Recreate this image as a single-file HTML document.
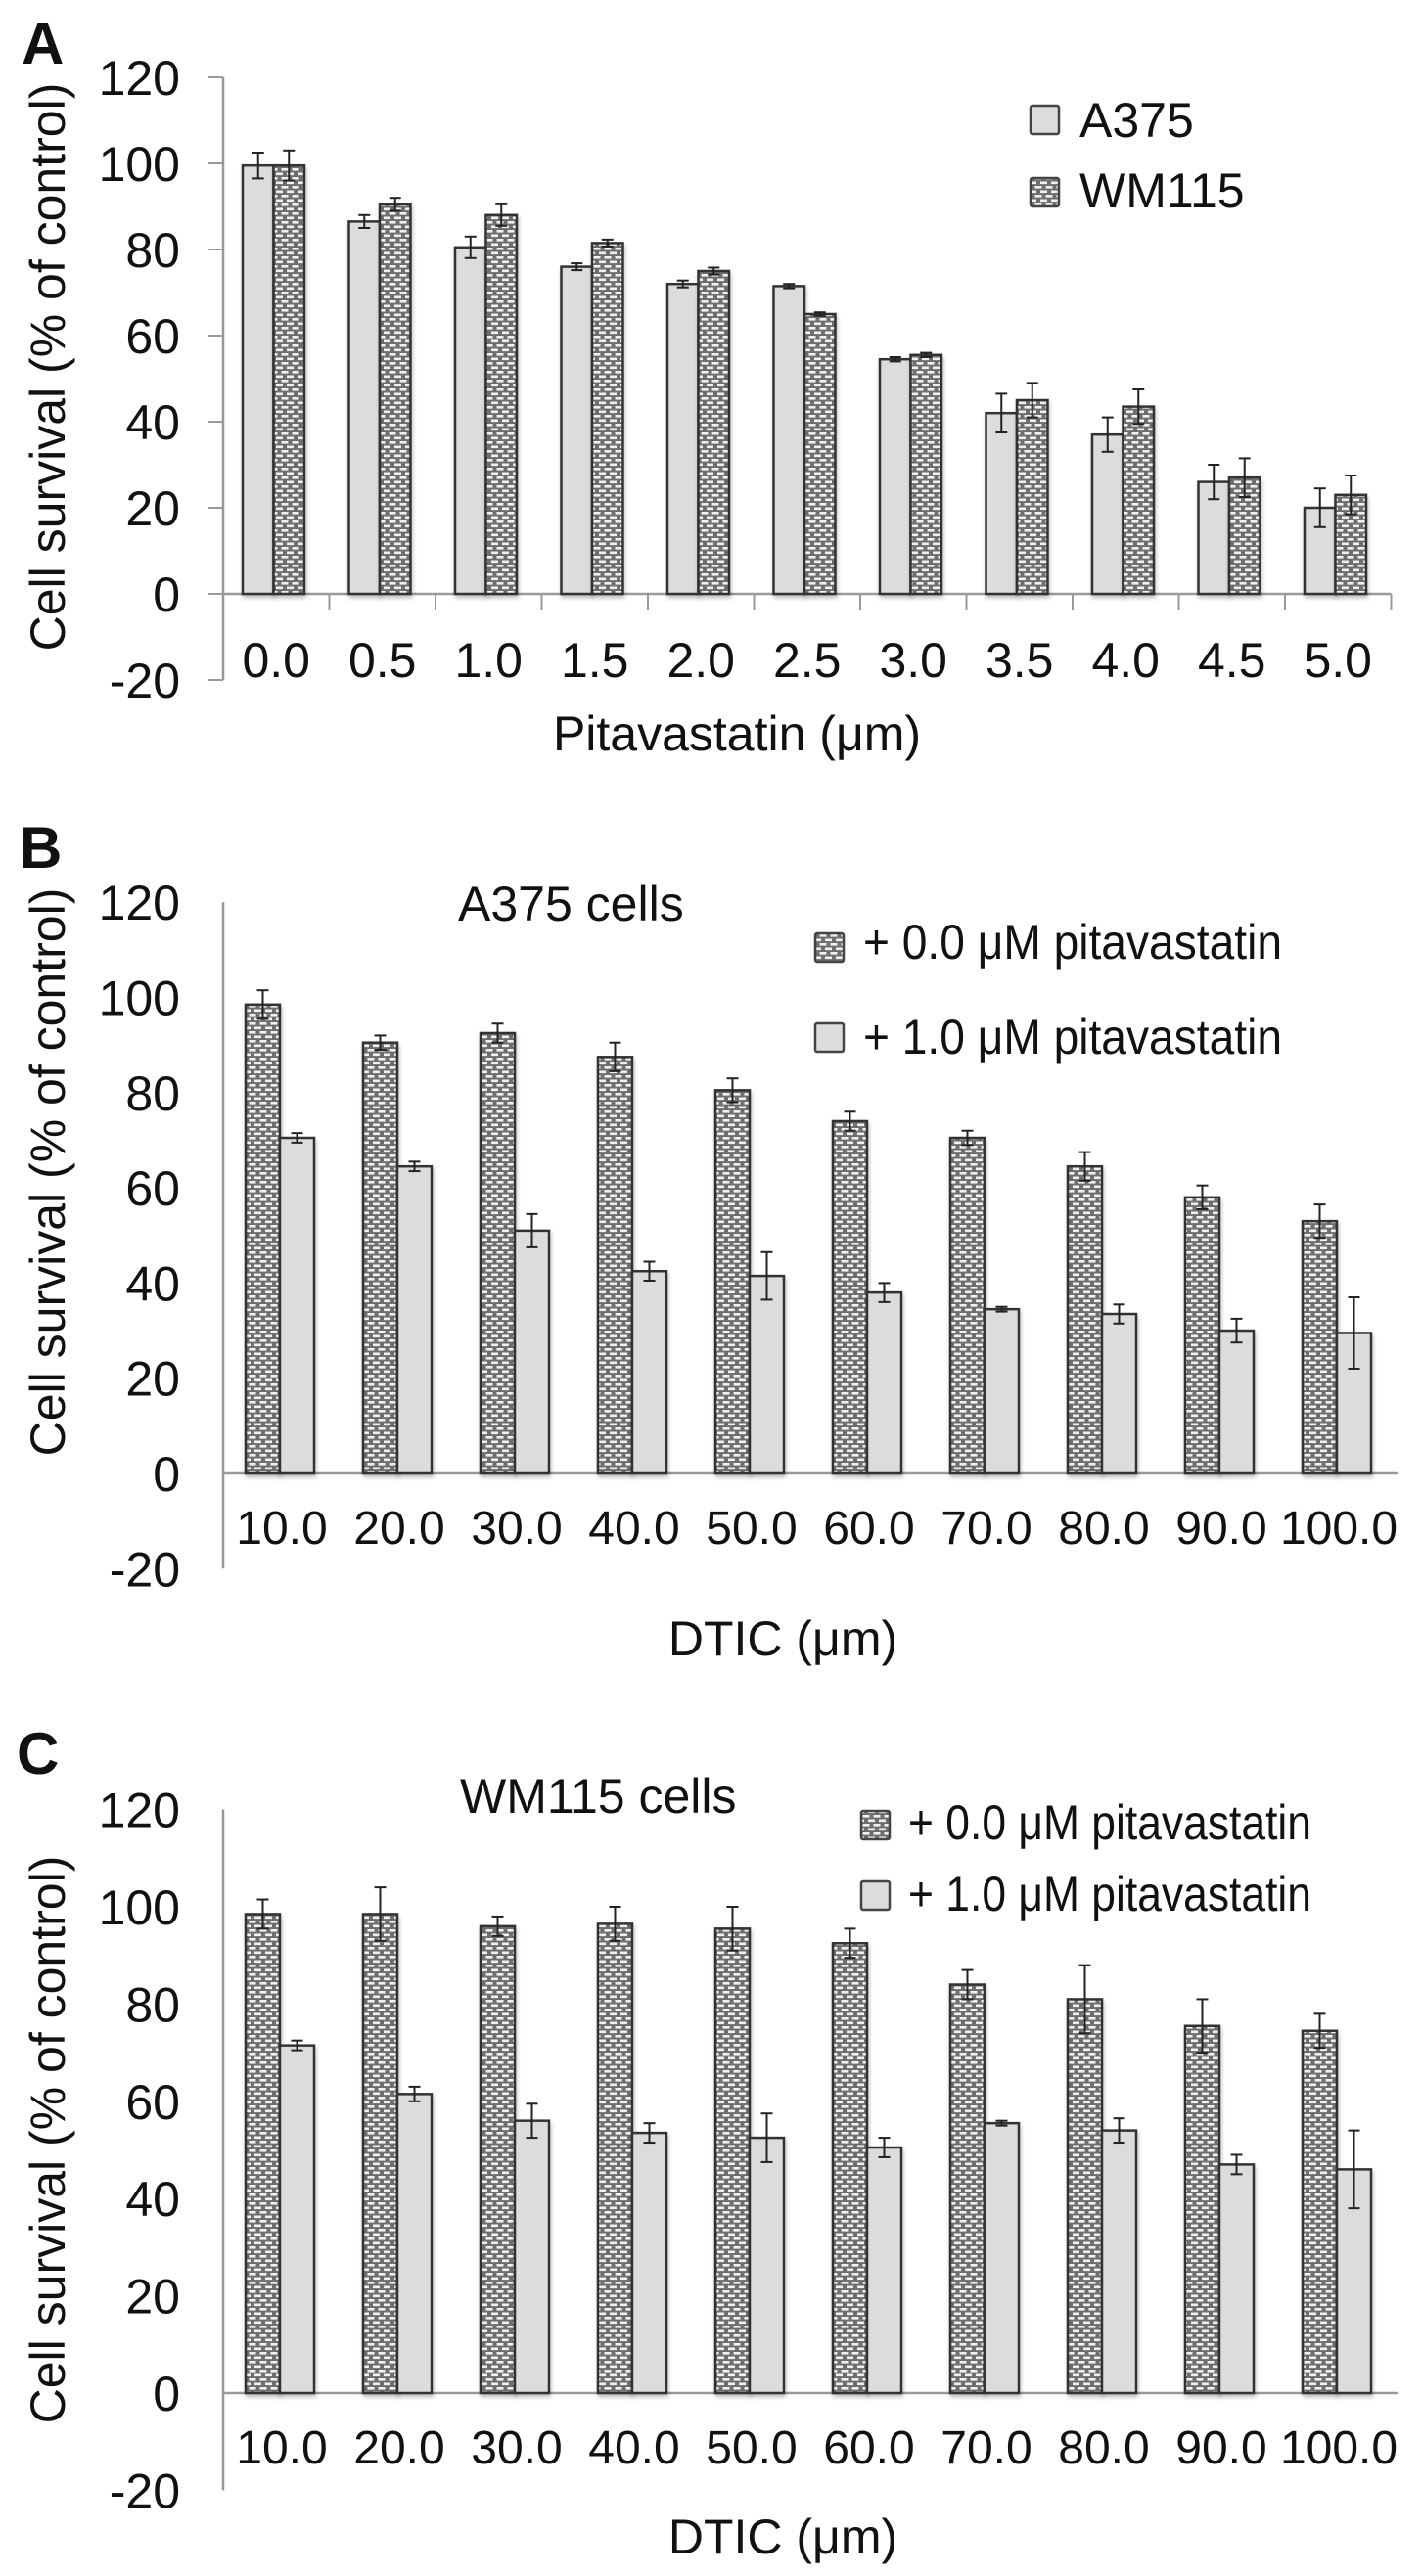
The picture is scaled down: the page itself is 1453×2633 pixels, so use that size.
<!DOCTYPE html>
<html><head><meta charset="utf-8">
<style>
html,body{margin:0;padding:0;background:#fff;}
svg{display:block;}
text{font-family:"Liberation Sans",sans-serif;fill:#111;}
</style></head>
<body>
<svg id="fig" width="1453" height="2633" viewBox="0 0 1453 2633" xmlns="http://www.w3.org/2000/svg">
<defs>
<pattern id="brick" patternUnits="userSpaceOnUse" width="11" height="9">
<rect width="11" height="9" fill="#6e6e6e"/>
<rect x="1.5" y="1" width="7" height="2.6" fill="#f0f0f0"/>
<rect x="-4" y="5.5" width="7" height="2.6" fill="#f0f0f0"/>
<rect x="7" y="5.5" width="7" height="2.6" fill="#f0f0f0"/>
</pattern>
<filter id="shadow" x="-10%" y="-10%" width="130%" height="130%"><feDropShadow dx="1" dy="3" stdDeviation="2" flood-color="#000" flood-opacity="0.25"/></filter>
</defs>
<g id="gA"></g>
<g id="gB"></g>
<g id="gC"></g>
</svg>
<script>
// Panel A data
const catsA = ["0.0","0.5","1.0","1.5","2.0","2.5","3.0","3.5","4.0","4.5","5.0"];
const a375 = [99.5,86.5,80.5,76,72,71.5,54.5,42,37,26,20];
const a375Err = [3,1.5,2.5,0.8,0.8,0.5,0.5,4.5,4,4,4.5];
const wm115 = [99.5,90.5,88,81.5,75,65,55.5,45,43.5,27,23];
const wm115Err = [3.5,1.5,2.5,0.8,0.8,0.4,0.5,4,4,4.5,4.5];
// Panel B data (A375 cells)
const catsB = ["10.0","20.0","30.0","40.0","50.0","60.0","70.0","80.0","90.0","100.0"];
const bZero = [98.5,90.5,92.5,87.5,80.5,74,70.5,64.5,58,53];
const bZeroErr = [3,1.5,2,3,2.5,2,1.5,3,2.5,3.5];
const bOne = [70.5,64.5,51,42.5,41.5,38,34.5,33.5,30,29.5];
const bOneErr = [1,1,3.5,2,5,2,0.5,2,2.5,7.5];
// Panel C data (WM115 cells)
const catsC = ["10.0","20.0","30.0","40.0","50.0","60.0","70.0","80.0","90.0","100.0"];
const cZero = [98.5,98.5,96,96.5,95.5,92.5,84,81,75.5,74.5];
const cZeroErr = [3,5.5,2,3.5,4.5,3,3,7,5.5,3.5];
const cOne = [71.5,61.5,56,53.5,52.5,50.5,55.5,54,47,46];
const cOneErr = [1,1.5,3.5,2,5,2,0.5,2.5,2,8];
const yTicks = [120,100,80,60,40,20,0,-20];

const NS = "http://www.w3.org/2000/svg";
function mk(parent, tag, attrs, txt){
  const e = document.createElementNS(NS, tag);
  for (const k in attrs) e.setAttribute(k, attrs[k]);
  if (txt !== undefined) e.textContent = txt;
  parent.appendChild(e);
  return e;
}

function panel(g, cfg){
  const y = v => cfg.zeroY - v * cfg.scale;
  const x0 = 228;
  const ax = mk(g,'line',{x1:x0,y1:y(120),x2:x0,y2:y(-20),stroke:'#999','stroke-width':2.5});
  
  
  yTicks.forEach(t=>{
    const tl = mk(g,'text',{x:184,y:y(t)+18,'font-size':50,'text-anchor':'end'},String(t));
    
    
    if (cfg.ticks){
      const tk = mk(g,'line',{x1:x0-15,y1:y(t),x2:x0,y2:y(t),stroke:'#999','stroke-width':2});
      
      
    }
  });
  const xEnd = x0 + cfg.cats.length * cfg.gw;
  const zl = mk(g,'line',{x1:x0,y1:y(0),x2:xEnd,y2:y(0),stroke:'#999','stroke-width':2.5});
  
  
  cfg.cats.forEach((c,i)=>{
    const gx = x0 + i*cfg.gw;
    if (cfg.ticks){
      const tk = mk(g,'line',{x1:gx+cfg.gw,y1:y(0),x2:gx+cfg.gw,y2:y(0)+16,stroke:'#999','stroke-width':2});
      
      
    }
    const cl = mk(g,'text',{x:gx+cfg.gw/2,y:cfg.catY,'font-size':cfg.catFont,'text-anchor':'middle'},c);
    
    
    cfg.series.forEach((s,k)=>{
      const bx = gx + cfg.off + k*cfg.bw;
      const v = s.vals[i];
      const r = mk(g,'rect',{x:bx,y:y(v),width:cfg.bw,height:y(0)-y(v),fill:s.fill,stroke:'#333','stroke-width':2.5,filter:'url(#shadow)'});
      
      
      const cx = bx + cfg.bw/2, e = s.err[i];
      const eg = mk(g,'g',{stroke:'#222','stroke-width':2});
      
      
      mk(eg,'line',{x1:cx,y1:y(v+e),x2:cx,y2:y(v-e)});
      mk(eg,'line',{x1:cx-6,y1:y(v+e),x2:cx+6,y2:y(v+e)});
      mk(eg,'line',{x1:cx-6,y1:y(v-e),x2:cx+6,y2:y(v-e)});
    });
  });
  const pl = mk(g,'text',{x:cfg.letterX,y:cfg.letterY,'font-size':60,'font-weight':'bold'},cfg.letter);
  
  
  const yt = mk(g,'text',{x:0,y:0,'font-size':50,'text-anchor':'middle',transform:`translate(66,${cfg.yTitleC}) rotate(-90)`},'Cell survival (% of control)');
  
  
  const xt = mk(g,'text',{x:cfg.xTitleX,y:cfg.xTitleY,'font-size':50,'text-anchor':'middle'},cfg.xTitle);
  
  
  if (cfg.title){
    const ct = mk(g,'text',{x:cfg.title[1],y:cfg.title[2],'font-size':50},cfg.title[0]);
    
    
  }
  cfg.legend.forEach(L=>{
    const lg = mk(g,'g',{});
    
    
    mk(lg,'rect',{x:L.sx,y:L.sy,width:29,height:29,fill:L.fill,stroke:'#444','stroke-width':2.5,rx:2});
    const ta = {x:L.tx,y:L.ty,'font-size':50};
    if (L.len){ ta.textLength = L.len; ta.lengthAdjust = 'spacingAndGlyphs'; }
    mk(lg,'text',ta,L.text);
  });
}

panel(document.getElementById('gA'),{
  cats:catsA, zeroY:607, scale:4.4, gw:108.5, off:20, bw:31.5, ticks:true,
  catY:692, catFont:50, letter:'A', letterX:22, letterY:65, yTitleC:375,
  xTitle:'Pitavastatin (\u03BCm)', xTitleX:753, xTitleY:767,
  series:[{key:'a375',vals:a375,err:a375Err,fill:'#dcdcdc'},{key:'wm115',vals:wm115,err:wm115Err,fill:'url(#brick)'}],
  legend:[{sx:1053,sy:108,fill:'#dcdcdc',tx:1103,ty:140,text:'A375'},{sx:1053,sy:182,fill:'url(#brick)',tx:1103,ty:212,text:'WM115'}]
});
panel(document.getElementById('gB'),{
  cats:catsB, zeroY:1506, scale:4.865, gw:120, off:23, bw:35, ticks:false,
  catY:1578, catFont:48, letter:'B', letterX:20, letterY:887, yTitleC:1198,
  xTitle:'DTIC (\u03BCm)', xTitleX:800, xTitleY:1692,
  title:['A375 cells',468,941],
  series:[{key:'zero-pitavastatin',vals:bZero,err:bZeroErr,fill:'url(#brick)'},{key:'one-pitavastatin',vals:bOne,err:bOneErr,fill:'#dcdcdc'}],
  legend:[{sx:833,sy:954,fill:'url(#brick)',tx:882,ty:980,len:428,text:'+ 0.0 \u03BCM  pitavastatin'},{sx:833,sy:1046,fill:'#dcdcdc',tx:882,ty:1077,len:428,text:'+ 1.0 \u03BCM pitavastatin'}]
});
panel(document.getElementById('gC'),{
  cats:catsC, zeroY:2446, scale:4.97, gw:120, off:23, bw:35, ticks:false,
  catY:2518, catFont:48, letter:'C', letterX:17, letterY:1813, yTitleC:2187,
  xTitle:'DTIC (\u03BCm)', xTitleX:800, xTitleY:2610,
  title:['WM115 cells',470,1853],
  series:[{key:'zero-pitavastatin',vals:cZero,err:cZeroErr,fill:'url(#brick)'},{key:'one-pitavastatin',vals:cOne,err:cOneErr,fill:'#dcdcdc'}],
  legend:[{sx:880,sy:1851,fill:'url(#brick)',tx:928,ty:1880,len:412,text:'+ 0.0 \u03BCM pitavastatin'},{sx:880,sy:1923,fill:'#dcdcdc',tx:928,ty:1953,len:412,text:'+ 1.0 \u03BCM pitavastatin'}]
});
</script>
</body></html>
